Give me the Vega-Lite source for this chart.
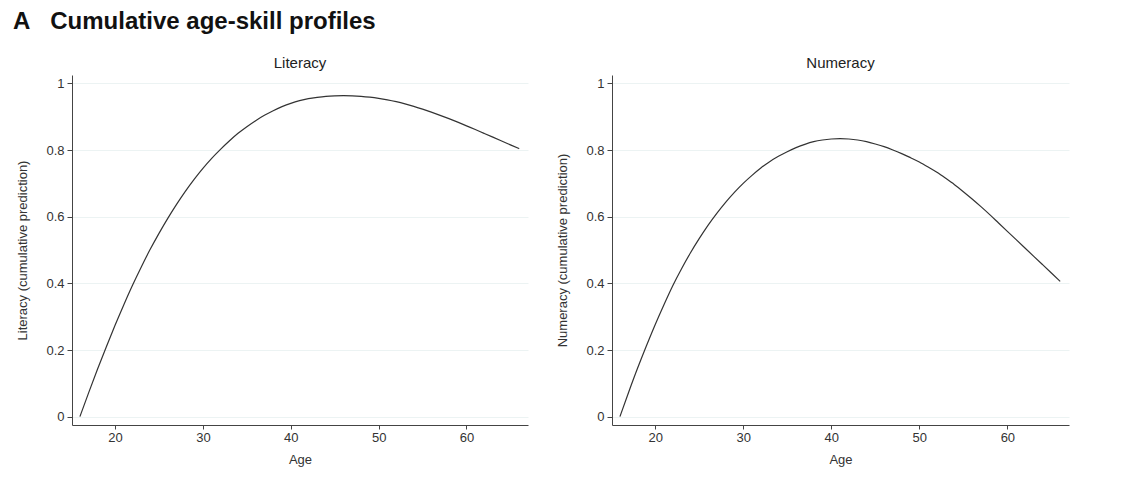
{
  "$schema": "https://vega.github.io/schema/vega-lite/v6.json",
  "padding": {"left": 12, "top": 10, "right": 5, "bottom": 5},
  "background": "white",
  "title": {"text": "A\u00a0\u00a0\u00a0Cumulative age-skill profiles", "anchor": "start", "frame": "bounds", "fontSize": 24, "fontWeight": "bold", "font": "Liberation Sans", "color": "#111", "offset": 22, "dx": -4},
  "config": {
    "font": "Liberation Sans",
    "view": {"stroke": null},
    "axis": {"domainColor": "#444", "tickColor": "#444", "labelColor": "#333", "titleColor": "#333", "labelFontSize": 13, "titleFontSize": 13, "titleFontWeight": "normal", "gridColor": "#ecf3f3", "gridWidth": 1, "tickSize": 5, "labelPadding": 3, "domainWidth": 1},
    "title": {"fontSize": 15, "fontWeight": "normal", "color": "#222", "offset": 4}
  },
  "datasets": {
    "lit": [
      {"age": 16, "v": 0}, {"age": 17, "v": 0.072}, {"age": 18, "v": 0.142}, {"age": 19, "v": 0.209}, {"age": 20, "v": 0.274},
      {"age": 21, "v": 0.336}, {"age": 22, "v": 0.395}, {"age": 23, "v": 0.450}, {"age": 24, "v": 0.502}, {"age": 25, "v": 0.550},
      {"age": 26, "v": 0.595}, {"age": 27, "v": 0.637}, {"age": 28, "v": 0.676}, {"age": 29, "v": 0.712}, {"age": 30, "v": 0.745},
      {"age": 31, "v": 0.775}, {"age": 32, "v": 0.802}, {"age": 33, "v": 0.827}, {"age": 34, "v": 0.850}, {"age": 35, "v": 0.870},
      {"age": 36, "v": 0.888}, {"age": 37, "v": 0.904}, {"age": 38, "v": 0.918}, {"age": 39, "v": 0.930}, {"age": 40, "v": 0.940},
      {"age": 41, "v": 0.948}, {"age": 42, "v": 0.954}, {"age": 43, "v": 0.958}, {"age": 44, "v": 0.961}, {"age": 45, "v": 0.9625},
      {"age": 46, "v": 0.963}, {"age": 47, "v": 0.9625}, {"age": 48, "v": 0.961}, {"age": 49, "v": 0.9585}, {"age": 50, "v": 0.955},
      {"age": 51, "v": 0.9505}, {"age": 52, "v": 0.945}, {"age": 53, "v": 0.9385}, {"age": 54, "v": 0.931}, {"age": 55, "v": 0.9225},
      {"age": 56, "v": 0.9135}, {"age": 57, "v": 0.904}, {"age": 58, "v": 0.894}, {"age": 59, "v": 0.8835}, {"age": 60, "v": 0.8725},
      {"age": 61, "v": 0.8615}, {"age": 62, "v": 0.850}, {"age": 63, "v": 0.8385}, {"age": 64, "v": 0.827}, {"age": 65, "v": 0.8155},
      {"age": 66, "v": 0.804}
    ],
    "num": [
      {"age": 16, "v": 0}, {"age": 17, "v": 0.074}, {"age": 18, "v": 0.145}, {"age": 19, "v": 0.212}, {"age": 20, "v": 0.276},
      {"age": 21, "v": 0.336}, {"age": 22, "v": 0.393}, {"age": 23, "v": 0.444}, {"age": 24, "v": 0.491}, {"age": 25, "v": 0.534},
      {"age": 26, "v": 0.574}, {"age": 27, "v": 0.610}, {"age": 28, "v": 0.643}, {"age": 29, "v": 0.673}, {"age": 30, "v": 0.700},
      {"age": 31, "v": 0.724}, {"age": 32, "v": 0.746}, {"age": 33, "v": 0.765}, {"age": 34, "v": 0.781}, {"age": 35, "v": 0.795},
      {"age": 36, "v": 0.807}, {"age": 37, "v": 0.817}, {"age": 38, "v": 0.825}, {"age": 39, "v": 0.830}, {"age": 40, "v": 0.833},
      {"age": 41, "v": 0.834}, {"age": 42, "v": 0.833}, {"age": 43, "v": 0.830}, {"age": 44, "v": 0.825}, {"age": 45, "v": 0.818},
      {"age": 46, "v": 0.810}, {"age": 47, "v": 0.800}, {"age": 48, "v": 0.789}, {"age": 49, "v": 0.777}, {"age": 50, "v": 0.764},
      {"age": 51, "v": 0.749}, {"age": 52, "v": 0.733}, {"age": 53, "v": 0.715}, {"age": 54, "v": 0.696}, {"age": 55, "v": 0.675},
      {"age": 56, "v": 0.653}, {"age": 57, "v": 0.630}, {"age": 58, "v": 0.606}, {"age": 59, "v": 0.581}, {"age": 60, "v": 0.556},
      {"age": 61, "v": 0.531}, {"age": 62, "v": 0.506}, {"age": 63, "v": 0.481}, {"age": 64, "v": 0.456}, {"age": 65, "v": 0.431},
      {"age": 66, "v": 0.406}
    ]
  },
  "hconcat": [
    {
      "title": "Literacy",
      "width": 456,
      "height": 350,
      "data": {"name": "lit"},
      "mark": {"type": "line", "color": "#333", "strokeWidth": 1.2, "interpolate": "monotone"},
      "encoding": {
        "x": {"field": "age", "type": "quantitative", "title": "Age", "scale": {"domain": [15.1, 67], "nice": false, "zero": false}, "axis": {"values": [20, 30, 40, 50, 60], "grid": false, "tickSize": 4, "labelPadding": 2, "titlePadding": 9}},
        "y": {"field": "v", "type": "quantitative", "title": "Literacy (cumulative prediction)", "scale": {"domain": [-0.025, 1.025], "nice": false}, "axis": {"values": [0, 0.2, 0.4, 0.6, 0.8, 1], "format": "~g", "titlePadding": 16}}
      }
    },
    {
      "title": "Numeracy",
      "width": 457,
      "height": 350,
      "data": {"name": "num"},
      "mark": {"type": "line", "color": "#333", "strokeWidth": 1.2, "interpolate": "monotone"},
      "encoding": {
        "x": {"field": "age", "type": "quantitative", "title": "Age", "scale": {"domain": [15.1, 67], "nice": false, "zero": false}, "axis": {"values": [20, 30, 40, 50, 60], "grid": false, "tickSize": 4, "labelPadding": 2, "titlePadding": 9}},
        "y": {"field": "v", "type": "quantitative", "title": "Numeracy (cumulative prediction)", "scale": {"domain": [-0.025, 1.025], "nice": false}, "axis": {"values": [0, 0.2, 0.4, 0.6, 0.8, 1], "format": "~g", "titlePadding": 16}}
      }
    }
  ],
  "bounds": "flush",
  "spacing": 84
}
